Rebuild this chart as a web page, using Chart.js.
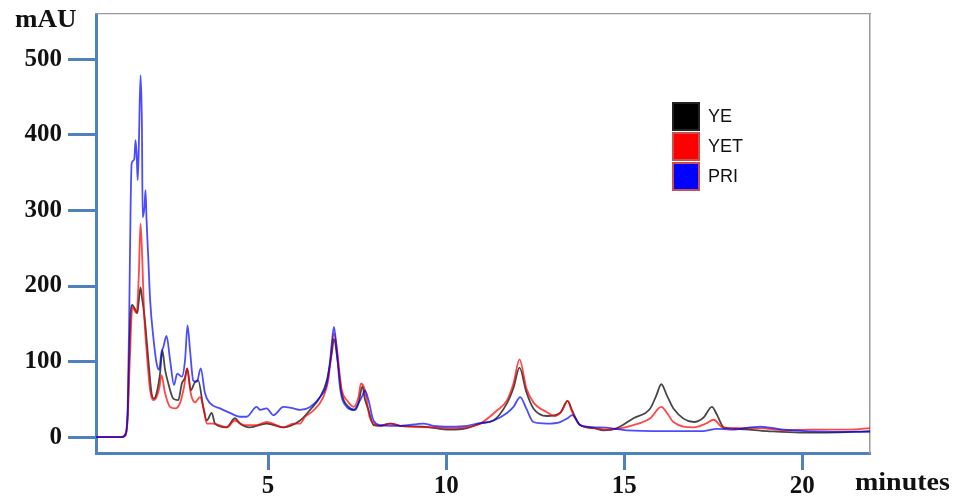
<!DOCTYPE html>
<html>
<head>
<meta charset="utf-8">
<title>Chromatogram</title>
<script src="https://cdn.jsdelivr.net/npm/chart.js@4.4.1/dist/chart.umd.min.js"></script>
<style>
  body { margin: 0; background: #fff; }
  #wrap { position: relative; width: 954px; height: 500px; }
  #chart { position: absolute; left: 0; top: 0; }
  .axis-name { position: absolute; font: bold 25px "Liberation Serif", "Times New Roman", serif; color: #111; line-height: 1; }
  #unit { left: 15px; top: 6px; transform: scaleX(1.08); transform-origin: left top; }
  #minutes { left: 855px; top: 469px; transform: scaleX(1.12); transform-origin: left top; }
  #legend { position: absolute; left: 672px; top: 101px; font: 18px "Liberation Sans", Arial, sans-serif; color: #111; }
  #legend .row { display: flex; align-items: center; height: 30px; }
  #legend .box { width: 28px; height: 29px; box-sizing: border-box; border: 2px solid #c9504f; margin-right: 8px; }
</style>
</head>
<body>
<div id="wrap">
  <canvas id="chart" width="954" height="500"></canvas>
  <div class="axis-name" id="unit">mAU</div>
  <div class="axis-name" id="minutes">minutes</div>
  <div id="legend"></div>
</div>
<script>
// retention time (min) and absorbance (mAU) for each extract
const yeTime = [0.17, 0.89, 1.00, 1.06, 1.10, 1.14, 1.19, 1.26, 1.33, 1.37, 1.42, 1.46, 1.50, 1.56, 1.64, 1.73, 1.80, 1.87, 1.97, 2.03,
  2.11, 2.20, 2.34, 2.48, 2.58, 2.67, 2.73, 2.83, 2.95, 3.04, 3.18, 3.28, 3.42, 3.51, 3.84, 4.07, 4.21, 4.49, 4.96, 5.43,
  5.90, 6.18, 6.46, 6.65, 6.79, 6.85, 6.95, 7.07, 7.26, 7.44, 7.54, 7.65, 7.72, 7.82, 7.96, 8.15, 8.43, 8.71, 9.36, 10.11,
  10.59, 10.96, 11.33, 11.71, 11.89, 12.06, 12.25, 12.45, 12.83, 13.20, 13.41, 13.54, 13.76, 14.14, 14.42, 14.80, 15.26, 15.73, 15.90, 16.04,
  16.20, 16.38, 16.95, 17.23, 17.46, 17.60, 17.79, 18.17, 19.01, 19.94, 20.69, 21.90];
const yeValue = [0, 0, 3, 30, 102, 160, 175, 170, 164, 180, 198, 185, 172, 146, 102, 58, 51, 58, 85, 115,
  89, 71, 51, 49, 71, 79, 91, 62, 73, 75, 40, 22, 32, 18, 13, 25, 18, 13, 18, 13,
  22, 36, 53, 75, 111, 130, 102, 58, 40, 36, 45, 67, 50, 36, 16, 15, 18, 15, 14, 10,
  12, 18, 22, 45, 65, 92, 60, 38, 28, 32, 48, 35, 16, 12, 9, 12, 25, 38, 55, 70,
  55, 38, 20, 26, 40, 30, 13, 11, 8, 6, 6, 8];

const yetTime = [0.17, 0.89, 1.00, 1.06, 1.12, 1.19, 1.31, 1.37, 1.42, 1.47, 1.52, 1.59, 1.69, 1.78, 1.87, 1.95, 2.01, 2.11, 2.25, 2.39,
  2.53, 2.64, 2.73, 2.83, 2.95, 3.09, 3.20, 3.28, 3.46, 3.84, 4.07, 4.31, 4.68, 4.96, 5.43, 5.71, 5.90, 6.04, 6.27, 6.55,
  6.69, 6.74, 6.85, 6.95, 7.02, 7.07, 7.21, 7.40, 7.54, 7.61, 7.72, 7.85, 7.96, 8.15, 8.43, 8.71, 9.64, 10.11, 10.59, 10.96,
  11.42, 11.71, 11.89, 12.06, 12.25, 12.45, 12.83, 13.06, 13.25, 13.41, 13.54, 13.76, 14.14, 14.51, 15.26, 15.73, 16.04, 16.20, 16.38, 16.95,
  17.30, 17.51, 17.79, 18.82, 19.47, 20.22, 21.35, 21.90];
const yetValue = [0, 0, 2, 25, 102, 172, 164, 212, 283, 234, 164, 115, 62, 49, 53, 66, 82, 58, 40, 38,
  45, 66, 91, 58, 46, 53, 36, 18, 18, 13, 22, 16, 16, 20, 13, 18, 18, 27, 35, 53,
  75, 95, 137, 111, 79, 62, 49, 40, 53, 71, 62, 27, 18, 15, 18, 15, 13, 12, 13, 18,
  35, 49, 71, 103, 65, 46, 33, 28, 35, 48, 33, 16, 12, 10, 16, 25, 40, 32, 20, 13,
  18, 23, 12, 12, 9, 10, 10, 12];

const priTime = [0.17, 0.89, 1.00, 1.06, 1.10, 1.14, 1.17, 1.22, 1.25, 1.28, 1.31, 1.34, 1.37, 1.42, 1.46, 1.48, 1.53, 1.56, 1.59, 1.64,
  1.69, 1.78, 1.87, 1.94, 2.01, 2.06, 2.15, 2.25, 2.36, 2.45, 2.58, 2.67, 2.74, 2.81, 2.90, 3.00, 3.11, 3.23, 3.37, 3.65,
  3.93, 4.21, 4.40, 4.68, 4.78, 4.96, 5.15, 5.43, 5.71, 5.90, 6.18, 6.46, 6.65, 6.74, 6.79, 6.85, 6.93, 7.02, 7.21, 7.40,
  7.54, 7.65, 7.72, 7.82, 7.96, 8.15, 8.43, 8.71, 9.36, 9.64, 10.11, 10.59, 10.86, 11.33, 11.71, 11.89, 12.08, 12.25, 12.45, 12.83,
  13.20, 13.41, 13.54, 13.76, 13.95, 14.61, 15.07, 16.10, 17.23, 17.60, 17.98, 18.82, 19.47, 20.87, 21.90];
const priValue = [0, 0, 5, 40, 150, 300, 362, 366, 370, 393, 375, 340, 380, 479, 410, 291, 304, 327, 287, 234,
  181, 132, 98, 89, 112, 119, 134, 102, 69, 84, 80, 102, 148, 115, 75, 73, 91, 58, 45, 38,
  32, 27, 27, 40, 36, 38, 29, 40, 38, 36, 40, 53, 71, 100, 124, 146, 115, 66, 40, 36,
  45, 55, 62, 49, 22, 16, 15, 15, 18, 15, 14, 15, 18, 22, 32, 40, 53, 38, 20, 18,
  20, 25, 29, 16, 14, 12, 9, 8, 8, 11, 10, 14, 10, 7, 7];

const xTicks = [5, 10, 15, 20];
const yTicks = [0, 100, 200, 300, 400, 500];

const axisBlue = '#4f81bd';
const tickFont = { family: '"Liberation Serif", "Times New Roman", serif', size: 25, weight: 'bold' };

function points(times, values) {
  return times.map((t, i) => ({ x: t, y: values[i] }));
}

function trace(label, times, values, color, order) {
  return {
    label: label,
    data: points(times, values),
    borderColor: color,
    borderWidth: 1.8,
    pointRadius: 0,
    fill: false,
    cubicInterpolationMode: 'monotone',
    order: order,
  };
}

const datasets = [
  trace('YE', yeTime, yeValue, 'rgba(0,0,0,0.72)', 2),
  trace('YET', yetTime, yetValue, 'rgba(255,0,0,0.72)', 1),
  trace('PRI', priTime, priValue, 'rgba(0,0,255,0.7)', 0),
];

// keep the plot box fixed: no extra room for half-height labels
function noPad(s) {
  s.paddingTop = 0;
  s.paddingBottom = 0;
  s.paddingLeft = 0;
  s.paddingRight = 0;
}

const ctx = document.getElementById('chart').getContext('2d');
const chart = new Chart(ctx, {
  type: 'line',
  data: { datasets: datasets },
  options: {
    responsive: false,
    animation: false,
    layout: { padding: { top: 14, right: 84, left: 0, bottom: 0 } },
    plugins: { legend: { display: false }, tooltip: { enabled: false } },
    scales: {
      x: {
        type: 'linear',
        min: 0.17,
        max: 21.9,
        afterBuildTicks: s => { s.ticks = xTicks.map(v => ({ value: v })); },
        afterFit: s => { s.height = 47; noPad(s); },
        grid: { drawOnChartArea: false, tickLength: 17, tickWidth: 3, tickColor: axisBlue },
        border: { color: axisBlue, width: 3 },
        ticks: { font: tickFont, color: '#111', padding: 2, maxRotation: 0 },
      },
      y: {
        min: -21,
        max: 560,
        afterBuildTicks: s => { s.ticks = yTicks.map(v => ({ value: v })); },
        afterFit: s => { s.width = 96; noPad(s); },
        grid: { drawOnChartArea: false, tickLength: 28, tickWidth: 3, tickColor: axisBlue },
        border: { color: axisBlue, width: 3 },
        ticks: { font: tickFont, color: '#111', padding: 6 },
      },
      // thin grey frame on the top and right
      x2: {
        type: 'linear',
        position: 'top',
        min: 0.17,
        max: 21.9,
        afterFit: s => { s.height = 0; noPad(s); },
        grid: { drawOnChartArea: false, drawTicks: false },
        border: { color: '#9a9a9a', width: 1.2 },
        ticks: { display: false },
      },
      y2: {
        position: 'right',
        min: -21,
        max: 560,
        afterFit: s => { s.width = 0; noPad(s); },
        grid: { drawOnChartArea: false, drawTicks: false },
        border: { color: '#9a9a9a', width: 1.5 },
        ticks: { display: false },
      },
    },
  },
});

// legend boxes built from the datasets
const legend = document.getElementById('legend');
const legendFill = ['#000', '#ff0000', '#0000ff'];
chart.data.datasets.forEach((ds, i) => {
  const row = document.createElement('div');
  row.className = 'row';
  const box = document.createElement('span');
  box.className = 'box';
  box.style.background = legendFill[i];
  if (i === 0) box.style.borderColor = '#222';
  const txt = document.createElement('span');
  txt.textContent = ds.label;
  row.appendChild(box);
  row.appendChild(txt);
  legend.appendChild(row);
});
</script>
</body>
</html>
